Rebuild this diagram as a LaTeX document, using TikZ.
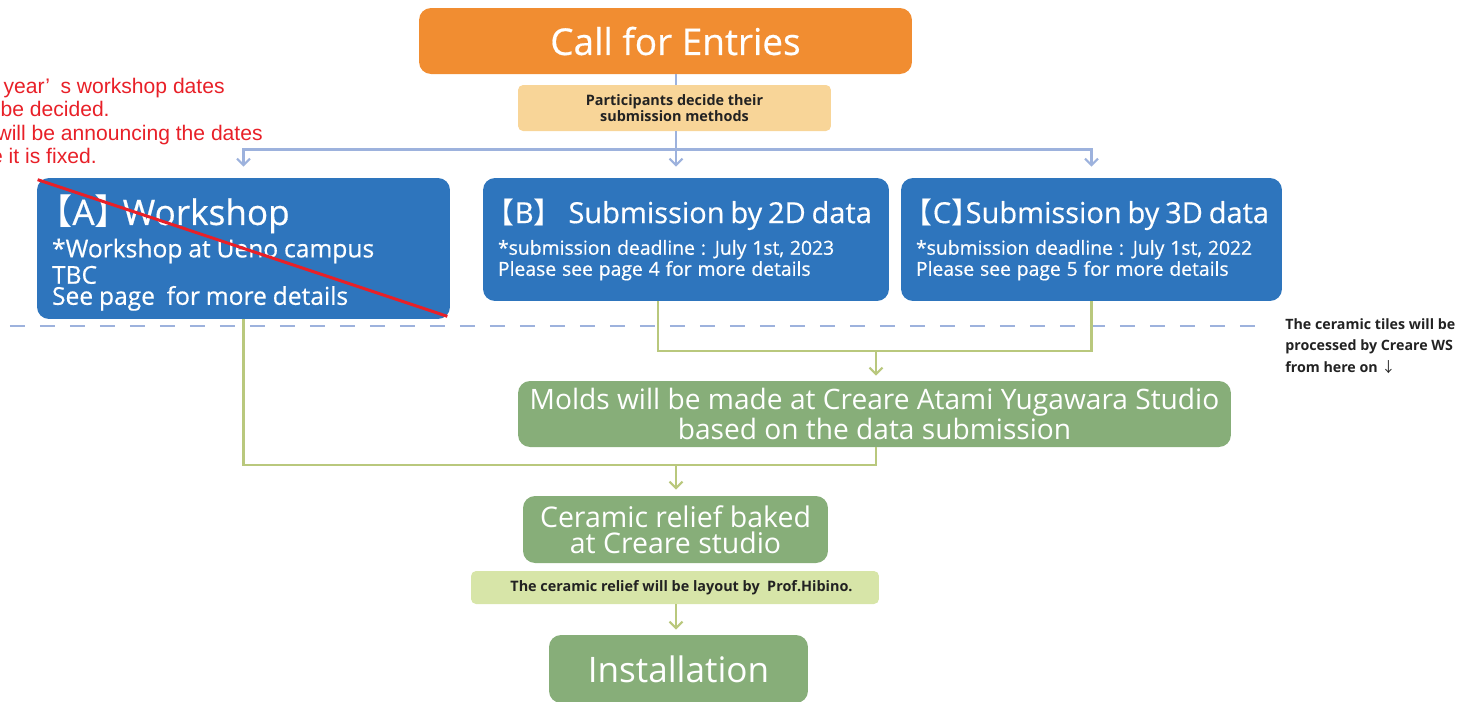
\documentclass[tikz,border=0pt]{standalone}
\usepackage{fontspec}
\setmainfont{Open Sans}
\newfontfamily\boxfont{Open Sans}[FakeBold=0.5]
\newfontfamily\cjk{Noto Sans CJK JP}
\newfontfamily\rednote{Liberation Sans}
\usetikzlibrary{arrows.meta,calc}

\definecolor{callorange}{RGB}{241,141,49}
\definecolor{decidetan}{RGB}{248,213,152}
\definecolor{methodblue}{RGB}{46,117,189}
\definecolor{linkblue}{RGB}{157,178,221}
\definecolor{studiogreen}{RGB}{135,174,121}
\definecolor{linkgreen}{RGB}{185,200,125}
\definecolor{layoutgreen}{RGB}{215,229,168}
\definecolor{notered}{RGB}{232,32,40}
\definecolor{darktext}{RGB}{34,34,34}

\newcommand{\lbr}{{\cjk\kern-0.42em【}}
\newcommand{\rbr}{{\cjk】}}

\begin{document}
\begin{tikzpicture}[x=0.02cm,y=-0.02cm,
	flow node/.style={rounded corners=0.24cm,inner sep=0pt,text=white,align=center},
	call node/.style={flow node,fill=callorange,minimum width=9.86cm,minimum height=1.32cm,font=\boxfont\fontsize{21}{24}\selectfont},
	decide node/.style={rounded corners=0.1cm,inner sep=0pt,fill=decidetan,text=darktext,align=center,minimum width=6.26cm,minimum height=0.92cm,font=\bfseries\fontsize{8.2}{9.4}\selectfont},
	method node/.style={flow node,fill=methodblue,align=left,inner xsep=0.3cm,minimum height=2.46cm,font=\boxfont},
	studio node/.style={flow node,fill=studiogreen,minimum height=1.32cm,font=\boxfont},
	layout node/.style={rounded corners=0.1cm,inner sep=0pt,fill=layoutgreen,text=darktext,align=center,minimum width=8.16cm,minimum height=0.66cm,font=\bfseries\fontsize{8.2}{9.6}\selectfont},
	note line/.style={anchor=base east,inner sep=0pt,text=notered,font=\rednote\fontsize{12}{13.2}\selectfont},
	blue link/.style={linkblue,line width=1.4pt},
	green link/.style={linkgreen,line width=1.4pt},
	down/.style={-{Straight Barb[length=1.3mm,width=2.6mm,line width=1.2pt]}}
]
	\useasboundingbox (0,0) rectangle (1481,701);

	\begin{scope}
		\clip (0,0) rectangle (1481,701);
		\node[note line] (note1) at (225,93) {This\hspace{0.6em}year’\hspace{0.5em}s workshop dates};
		\node[note line] (note2) at (110,116) {will be decided.};
		\node[note line] (note3) at (263,140) {We will be announcing the dates};
		\node[note line] (note4) at (97,163) {once it is fixed.};
	\end{scope}

	\node[call node] (call) at (665.5,41) {\hspace*{0.4cm}Call for Entries};
	\node[decide node] (decide) at (674.5,108) {Participants decide their\\submission methods};

	\node[method node,minimum height=2.82cm,text width=7.66cm] (A) at (243.5,248.5)
		{\mbox{\rule{0pt}{22pt}\fontsize{20}{22}\selectfont\lbr A\rbr\kern-0.2em Workshop}\\[2pt]
		\fontsize{14}{15}\selectfont *Workshop at Ueno campus\\TBC\\See page\ \ for more details};
	\node[method node,text width=7.52cm] (B) at (686,239.5)
		{\mbox{\fontsize{16.5}{20}\selectfont\lbr B\rbr\ Submission by 2D data}\\[3pt]
		\fontsize{11}{15}\selectfont *submission deadline : July 1st, 2023\\Please see page 4 for more details};
	\node[method node,text width=7.02cm] (C) at (1091.5,239.5)
		{\mbox{\fontsize{16.5}{20}\selectfont\lbr C\rbr\kern-0.5em Submission by 3D data}\\[3pt]
		\fontsize{11}{15}\selectfont *submission deadline : July 1st, 2022\\Please see page 5 for more details};

	\draw[notered,line width=1.7pt] ([shift={(1,2)}]A.north west) -- ([shift={(-3,-3)}]A.south east);

	\coordinate (dash left) at (0,326);
	\coordinate (dash right) at (1265,326);
	\draw[linkblue,line width=1.4pt,dash pattern=on 0.3cm off 0.3cm,dash phase=0.4cm] (dash left) -- (dash right);
	\node[anchor=north west,inner sep=0pt,align=left,text=darktext,font=\bfseries\fontsize{8.1}{12.4}\selectfont] (tiles) at (1285,318)
		{The ceramic tiles will be\\processed by Creare WS\\from here on {\cjk\mdseries ↓}};

	\node[studio node,minimum width=14.26cm,font=\fontsize{16}{15.3}\selectfont] (molds) at (874.5,414)
		{Molds will be made at Creare Atami Yugawara Studio\\based on the data submission};
	\node[studio node,minimum width=6.1cm,minimum height=1.34cm,font=\fontsize{16.2}{14.7}\selectfont] (baked) at (675.5,529.5)
		{Ceramic relief baked\\at Creare studio};
	\node[layout node] (layout) at (675,587.5) {\hspace*{0.26cm}The ceramic relief will be layout by\ \ Prof.Hibino.};
	\node[studio node,minimum width=5.18cm,minimum height=1.36cm,font=\fontsize{20}{22}\selectfont] (install) at (678.5,669) {Installation};

	\coordinate (hub) at ($(decide.south)+(1.5,18)$);
	\draw[blue link] (call.south -| hub) -- (decide.north -| hub);
	\draw[blue link] (decide.south -| hub) -- (hub);
	\draw[blue link,down,shorten >=0.22cm] (hub) -| (A.north);
	\draw[blue link,down,shorten >=0.22cm] (hub) -- (B.north -| hub);
	\draw[blue link,down,shorten >=0.22cm] (hub) -| (C.north);

	\coordinate (B out) at ($(B.south)+(-28,0)$);
	\coordinate (BC join) at (876,351);
	\draw[green link] (B out) |- (BC join) -| (C.south);
	\draw[green link,down,shorten >=0.1cm] (BC join) -- (molds.north -| BC join);

	\coordinate (A join) at (676,465);
	\draw[green link] (A.south) |- (A join) -| (molds.south -| BC join);
	\draw[green link,down,shorten >=0.12cm] (A join) -- (baked.north -| A join);
	\draw[green link,down,shorten >=0.1cm] (layout.south -| A join) -- (install.north -| A join);
\end{tikzpicture}
\end{document}
